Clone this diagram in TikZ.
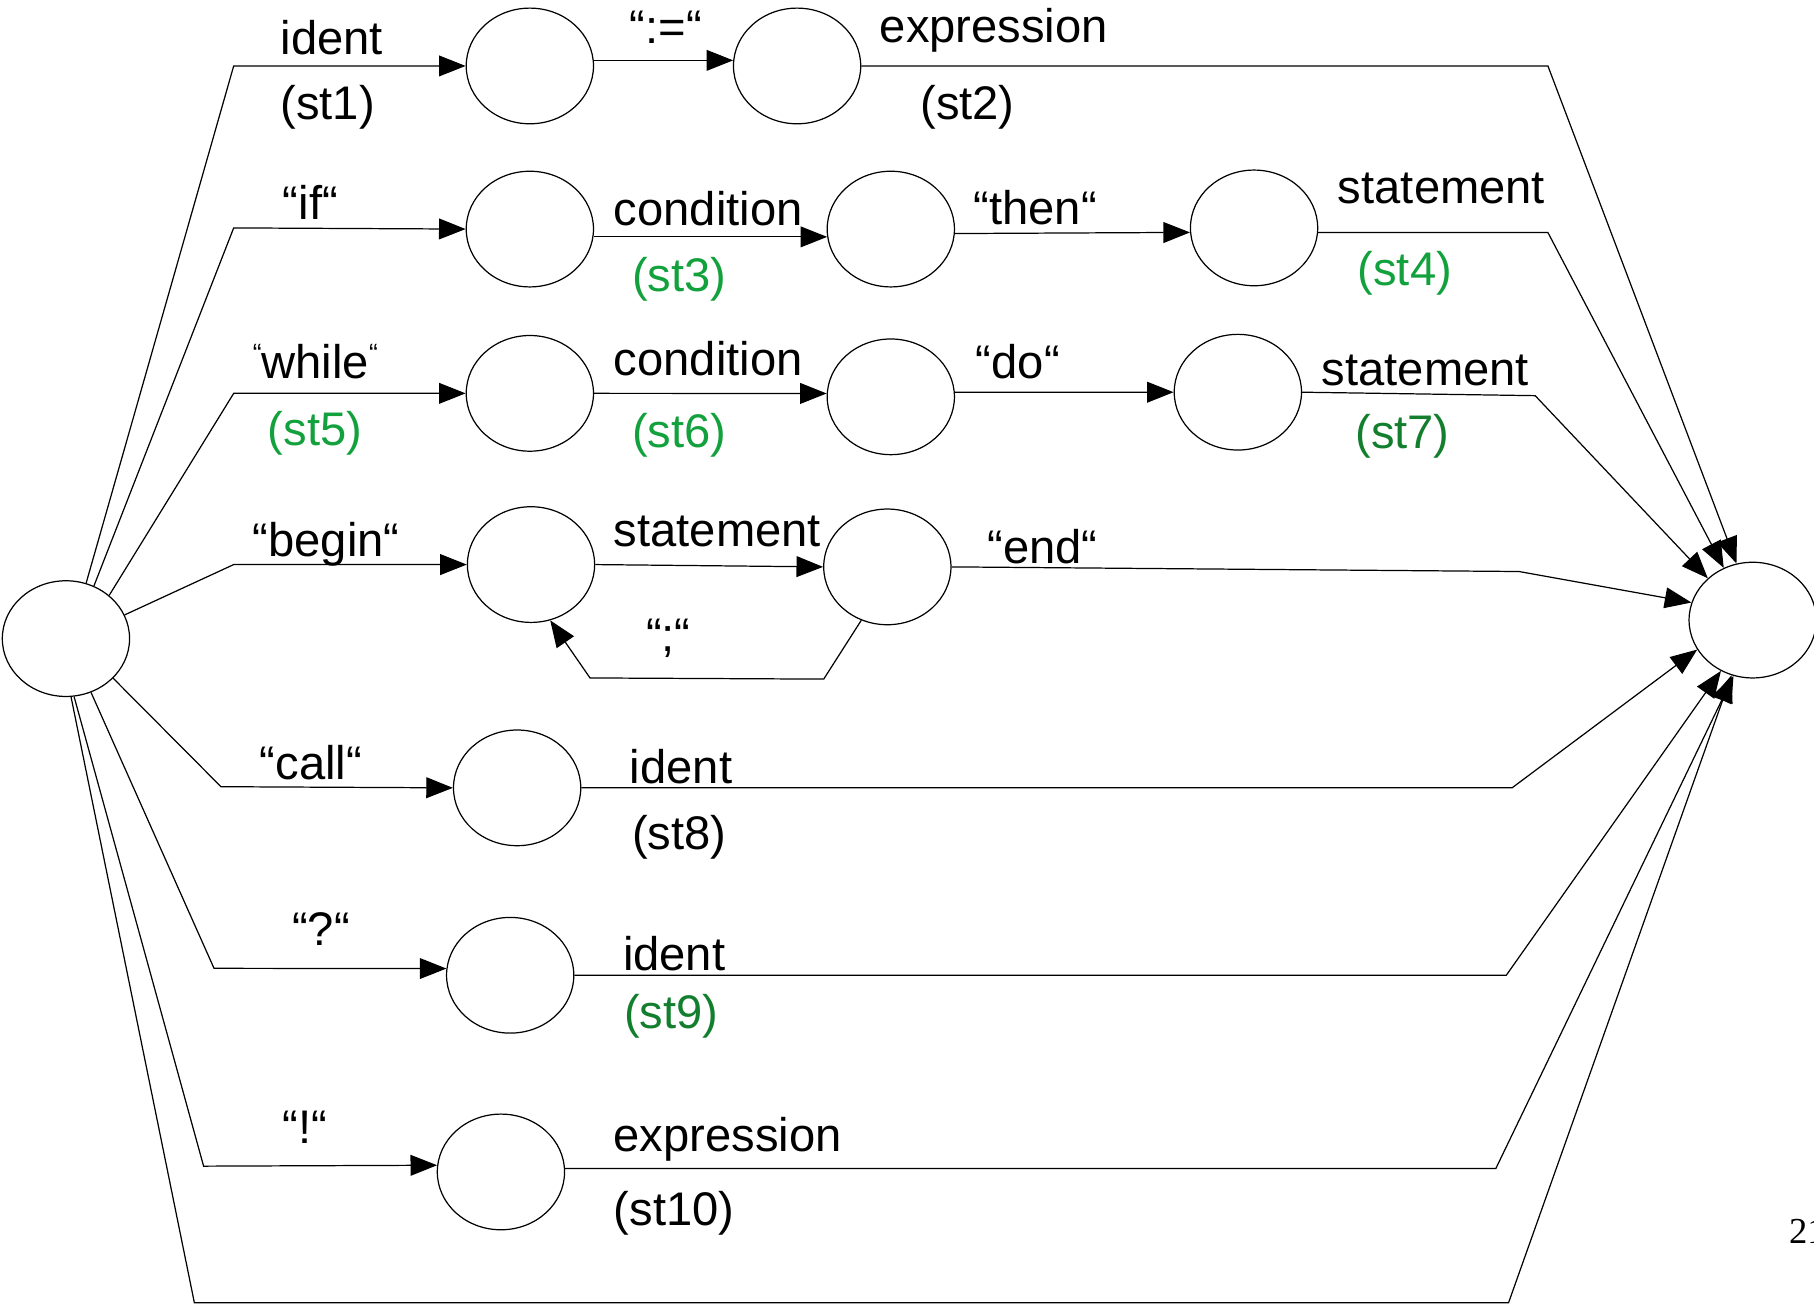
\documentclass[tikz,border=0pt]{standalone}
\usepackage{fontspec}
\setmainfont{Liberation Sans}
\newfontfamily\pagefont{Liberation Serif}
\usetikzlibrary{arrows.meta,shapes.geometric}
\definecolor{stgreen}{HTML}{12A13C}
\definecolor{stdark}{HTML}{137F2E}
\tikzset{
  state/.style={draw,ellipse,minimum width=11mm,minimum height=10mm,inner sep=0pt},
  lbl/.style={anchor=base west,inner sep=0pt,font=\fontsize{11.6}{14}\selectfont},
  link/.style={-{Triangle[length=2.3mm,width=1.8mm]}},
}
\newcommand{\smallq}{\raisebox{4pt}{\fontsize{6.5}{7}\selectfont “}}

\begin{document}
\begin{tikzpicture}[x=0.1mm,y=-0.1mm,line width=0.3pt]
\useasboundingbox (0,0) rectangle (1568,1127);

\node[state] (in) at (57,552) {};
\node[state] (out) at (1515,536) {};

\node[state] (r1a) at (458,57) {};
\node[state] (r1b) at (689,57) {};
\node[state] (r2a) at (458,198) {};
\node[state] (r2b) at (770,198) {};
\node[state] (r2c) at (1084,197) {};
\node[state] (r3a) at (458,340) {};
\node[state] (r3b) at (770,343) {};
\node[state] (r3c) at (1070,339) {};
\node[state] (r4a) at (459,488) {};
\node[state] (r4b) at (767,490) {};
\node[state] (r5a) at (447,681) {};
\node[state] (r6a) at (441,843) {};
\node[state] (r7a) at (433,1013) {};

\draw[link] (in.70) -- (202,57) -- (r1a.west);
\draw[link] (r1a.5) -- (r1b.175);
\draw[link] (r1b.east) -- (1338,57) -- (out.106);

\draw[link] (in.62) -- (202,197) -- (r2a.west);
\draw[link] (r2a.-7) -- (r2b.187);
\draw[link] (r2b.-4) -- (r2c.184);
\draw[link] (r2c.-4) -- (1338,201) -- (out.119);

\draw[link] (in.45) -- (202,340) -- (r3a.west);
\draw[link] (r3a.east) -- (r3b.177);
\draw[link] (r3b.4) -- (r3c.west);
\draw[link] (r3c.east) -- (1327,342) -- (out.137);

\draw[link] (in.22) -- (202,488) -- (r4a.west);
\draw[link] (r4a.east) -- (r4b.west);
\draw[link] (r4b.east) -- (1313,494) -- (out.164);
\draw[link] (r4b.244) -- (712,587) -- (510,586) -- (r4a.289);

\draw[link] (in.320) -- (191,680) -- (r5a.west);
\draw[link] (r5a.east) -- (1307,681) -- (out.208);

\draw[link] (in.295) -- (185,837) -- (r6a.174);
\draw[link] (r6a.east) -- (1302,843) -- (out.238);

\draw[link] (in.278) -- (176,1008) -- (r7a.174);
\draw[link] (r7a.3) -- (1293,1010) -- (out.251);

\draw[link] (in.275) -- (168,1126) -- (1304,1126) -- (out.249);

\node[lbl] (t1) at (242,47) {ident};
\node[lbl] (t1s) at (242,103) {(st1)};
\node[lbl] (t2) at (544,38) {“:=“};
\node[lbl] (t3) at (760,37) {expression};
\node[lbl] (t3s) at (795,103) {(st2)};
\node[lbl] (t4) at (244,190) {“if“};
\node[lbl] (t5) at (530,195) {condition};
\node[lbl,stgreen] (t5s) at (546,252) {(st3)};
\node[lbl] (t6) at (841,194) {“then“};
\node[lbl] (t7) at (1156,176) {statement};
\node[lbl,stgreen] (t7s) at (1173,247) {(st4)};
\node[lbl] (t8) at (218,327) {\smallq while\smallq};
\node[lbl,stgreen] (t8s) at (231,385) {(st5)};
\node[lbl] (t9) at (530,325) {condition};
\node[lbl,stgreen] (t9s) at (546,387) {(st6)};
\node[lbl] (t10) at (843,327) {“do“};
\node[lbl] (t11) at (1142,333) {statement};
\node[lbl,stdark] (t11s) at (1171,388) {(st7)};
\node[lbl] (t12) at (218,481) {“begin“};
\node[lbl] (t13) at (530,472) {statement};
\node[lbl] (t14) at (853,487) {“end“};
\node[lbl] (t15) at (558,563) {“;“};
\node[lbl] (t16) at (224,674) {“call“};
\node[lbl] (t17) at (544,677) {ident};
\node[lbl] (t17s) at (546,734) {(st8)};
\node[lbl] (t18) at (252,817) {“?“};
\node[lbl] (t19) at (538,839) {ident};
\node[lbl,stdark] (t19s) at (539,889) {(st9)};
\node[lbl] (t20) at (244,988) {“!“};
\node[lbl] (t21) at (530,995) {expression};
\node[lbl] (t21s) at (530,1059) {(st10)};
\node[anchor=base west,inner sep=0pt,font=\pagefont\fontsize{9}{10}\selectfont] (pg) at (1546,1075) {21};
\end{tikzpicture}
\end{document}
